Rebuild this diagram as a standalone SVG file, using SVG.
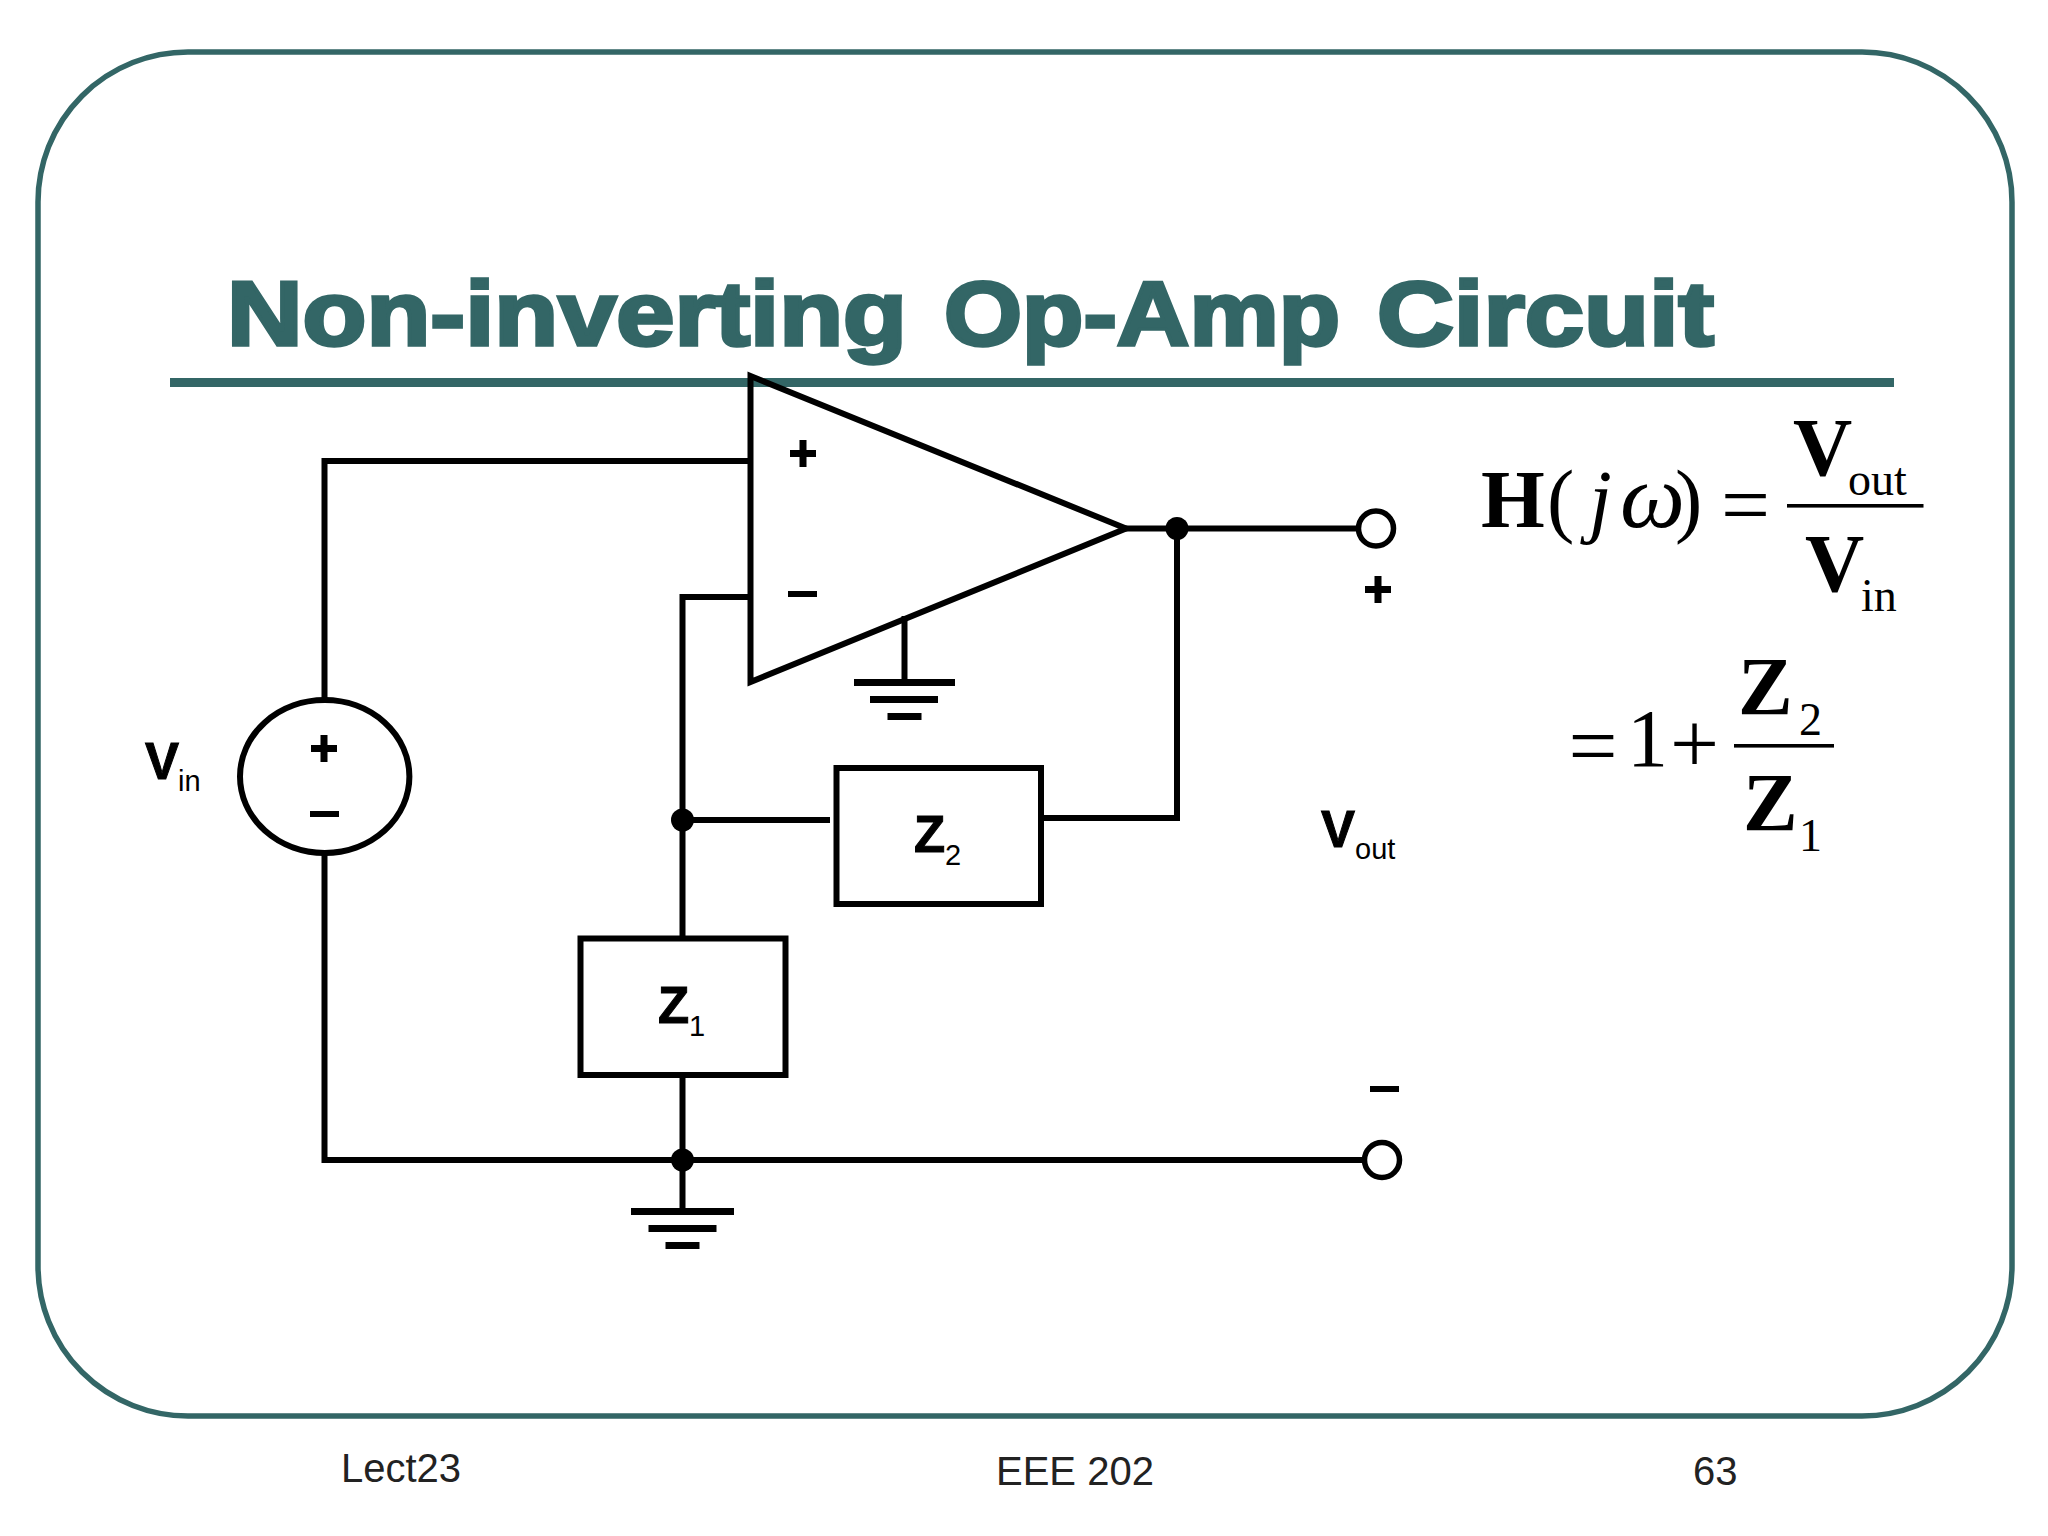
<svg xmlns="http://www.w3.org/2000/svg" width="2048" height="1536" viewBox="0 0 2048 1536">
<style>
.w{fill:none;stroke:#000;stroke-width:6}
.f{fill:#000;stroke:none}
.a{font-family:"Liberation Sans",Arial,sans-serif;fill:#000}
.b{font-weight:bold;font-size:51px;stroke:#000;stroke-width:1}
.s{font-size:29px}
.t{font-family:"Liberation Serif","Times New Roman",serif;fill:#000}
.tb{font-weight:bold;font-size:82px}
.tr{font-size:82px}
.tq{font-size:87px}
.ts{font-size:46px}
.foot{font-family:"Liberation Sans",Arial,sans-serif;font-size:40px;fill:#222}
</style>
<rect width="2048" height="1536" fill="#fff"/>
<g id="frame"><rect x="38" y="52" width="1974" height="1364" rx="150" ry="150" fill="none" stroke="#336666" stroke-width="5.500"/></g>
<g id="title">
<text y="345" font-family="'Liberation Sans',Arial,sans-serif" font-weight="bold" font-size="90" fill="#336666" stroke="#336666" stroke-width="3.500"><tspan x="227" textLength="680" lengthAdjust="spacingAndGlyphs">Non-inverting</tspan> <tspan x="944" textLength="396" lengthAdjust="spacingAndGlyphs">Op-Amp</tspan> <tspan x="1377" textLength="337" lengthAdjust="spacingAndGlyphs">Circuit</tspan></text>
<rect x="170" y="378" width="1724" height="9" fill="#336666"/>
</g>
<g id="connectors">
<path class="w" d="M324.500 700V461H750"/>
<path class="w" d="M324.500 853V1160H1362"/>
<path class="w" d="M750 597H682.500V938"/>
<path class="w" d="M682.500 820H830"/>
<path class="w" d="M682.500 1075V1212"/>
<path class="w" d="M1122 528.500H1356"/>
<path class="w" d="M1177 528.500V818H1041"/>
<path class="w" d="M904.500 616V682"/>
</g>
<g id="opamp">
<path class="w" d="M750.500 376L1126 528.500L750.500 682Z"/>
<rect class="f" x="790" y="450" width="26" height="7"/><rect class="f" x="799.500" y="440" width="7" height="27"/>
<rect class="f" x="788" y="591" width="29" height="6"/>
</g>
<g id="ground-opamp">
<rect class="f" x="854" y="679" width="101" height="7"/><rect class="f" x="870" y="696" width="68" height="7"/><rect class="f" x="887.500" y="713" width="34" height="7"/>
</g>
<g id="vin-source">
<ellipse class="w" cx="324.700" cy="776.500" rx="84.700" ry="76.500"/>
<rect class="f" x="311" y="745" width="26" height="7"/><rect class="f" x="320.500" y="735" width="7" height="27"/>
<rect class="f" x="310" y="811" width="29" height="6"/>
<text class="a b" x="145" y="779">V</text><text class="a s" x="178" y="791">in</text>
</g>
<g id="z1">
<rect class="w" x="580.500" y="938.500" width="205" height="136.500"/>
<text class="a b" x="658" y="1023">Z</text><text class="a s" x="689" y="1036">1</text>
</g>
<g id="z2">
<rect class="w" x="836.500" y="768" width="204.500" height="136"/>
<text class="a b" x="914" y="852">Z</text><text class="a s" x="945" y="865">2</text>
</g>
<g id="dots">
<circle class="f" cx="682.500" cy="820" r="11.500"/><circle class="f" cx="682.500" cy="1160" r="11.500"/><circle class="f" cx="1177" cy="528.500" r="11.500"/>
</g>
<g id="ground-main">
<rect class="f" x="631" y="1208" width="103" height="7"/><rect class="f" x="648.500" y="1225" width="68" height="7"/><rect class="f" x="665.500" y="1242" width="34" height="7"/>
</g>
<g id="vout">
<circle cx="1376" cy="528.500" r="17.500" fill="#fff" stroke="#000" stroke-width="5.500"/>
<rect class="f" x="1365" y="586" width="26" height="7"/><rect class="f" x="1374.500" y="576" width="7" height="27"/>
<circle cx="1382" cy="1160" r="17.500" fill="#fff" stroke="#000" stroke-width="5.500"/>
<rect class="f" x="1370" y="1086" width="29" height="6"/>
<text class="a b" x="1321" y="847">V</text><text class="a s" x="1355" y="859">out</text>
</g>
<g id="formula">
<text class="t tb" x="1481" y="527">H</text>
<text class="t tr" x="1547" y="527">(</text>
<text class="t tr" x="1589" y="527" font-style="italic">j</text>
<text class="t" x="1620" y="527" font-size="92" font-style="italic">ω</text>
<text class="t tr" x="1675" y="527">)</text>
<text class="t tq" x="1721" y="534">=</text>
<text class="t tb" x="1793" y="475">V</text><text class="t ts" x="1848" y="495">out</text>
<rect class="f" x="1787" y="504" width="136.500" height="3.600"/>
<text class="t tb" x="1805" y="591">V</text><text class="t ts" x="1861" y="611">in</text>
<text class="t tq" x="1568.500" y="775">=</text>
<text class="t tr" x="1627" y="766">1</text>
<text class="t tq" x="1670" y="773">+</text>
<text class="t tb" x="1738" y="714">Z</text><text class="t ts" x="1799" y="735">2</text>
<rect class="f" x="1734" y="744" width="100" height="3.600"/>
<text class="t tb" x="1743" y="830">Z</text><text class="t ts" x="1799" y="851">1</text>
</g>
<g id="footer">
<text class="foot" x="341" y="1482">Lect23</text>
<text class="foot" x="996" y="1485">EEE 202</text>
<text class="foot" x="1693" y="1485">63</text>
</g>
</svg>
